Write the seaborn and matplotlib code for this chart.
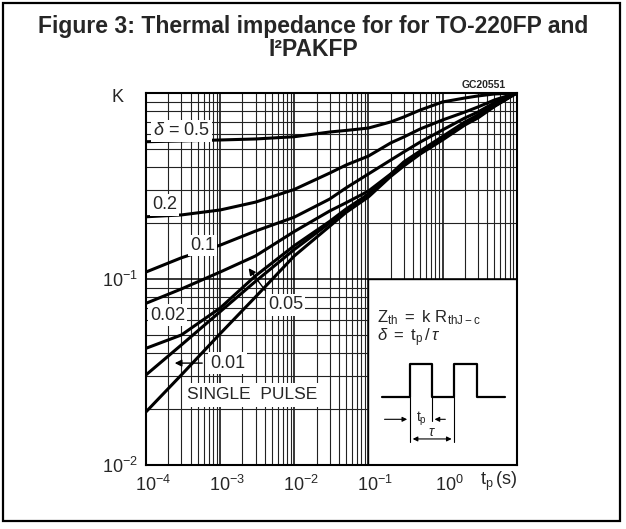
import numpy as np
import pandas as pd
import matplotlib
matplotlib.use('Agg')
import matplotlib.pyplot as plt
import matplotlib.transforms as mtransforms
import seaborn as sns
from matplotlib.patches import Rectangle
from matplotlib.ticker import LogLocator, NullFormatter

# pulse duration (s)
tp = [1e-4, 3e-4, 1e-3, 3e-3, 1e-2, 3e-2, 5e-2, 1e-1, 2e-1, 3e-1, 5e-1, 1, 2, 3, 5, 10]

# normalised thermal impedance K for each duty cycle
k_05 = [0.547, 0.552, 0.559, 0.566, 0.582, 0.617, 0.629, 0.648, 0.699, 0.743, 0.810, 0.895,
        0.940, 0.964, 0.988, 1.0]
k_02 = [0.216, 0.221, 0.235, 0.259, 0.303, 0.371, 0.410, 0.458, 0.539, 0.580, 0.641, 0.716,
        0.790, 0.841, 0.917, 1.0]
k_01 = [0.109, 0.130, 0.152, 0.181, 0.215, 0.269, 0.309, 0.367, 0.436, 0.482, 0.545, 0.633,
        0.734, 0.790, 0.887, 1.0]
k_005 = [0.0740, 0.0884, 0.109, 0.133, 0.180, 0.232, 0.257, 0.297, 0.367, 0.426, 0.488, 0.584,
         0.699, 0.762, 0.862, 1.0]
k_002 = [0.0424, 0.0500, 0.0698, 0.104, 0.151, 0.204, 0.238, 0.286, 0.365, 0.415, 0.482, 0.573,
         0.690, 0.752, 0.857, 1.0]
k_001 = [0.0305, 0.0442, 0.0667, 0.0971, 0.144, 0.200, 0.233, 0.281, 0.360, 0.410, 0.476, 0.566,
         0.681, 0.743, 0.851, 1.0]
k_single = [0.0193, 0.0305, 0.0508, 0.0801, 0.133, 0.192, 0.228, 0.276, 0.356, 0.405, 0.470,
            0.559, 0.673, 0.734, 0.846, 1.0]

curves = {'0.5': k_05, '0.2': k_02, '0.1': k_01, '0.05': k_005,
          '0.02': k_002, '0.01': k_001, 'single': k_single}

xtick_vals = [1e-4, 1e-3, 1e-2, 1e-1, 1e0]
xtick_labels = ['$10^{-4}$', '$10^{-3}$', '$10^{-2}$', '$10^{-1}$', '$10^{0}$']
ytick_vals = [1e-2, 1e-1]
ytick_labels = ['$10^{-2}$', '$10^{-1}$']

rows = []
for name, vals in curves.items():
    for t, k in zip(tp, vals):
        rows.append({'t': t, 'K': k, 'delta': name})
df = pd.DataFrame(rows)

sns.set_style('white')
plt.rcParams['font.family'] = ['Liberation Sans', 'DejaVu Sans']
plt.rcParams['mathtext.fontset'] = 'custom'
plt.rcParams['mathtext.rm'] = 'Liberation Sans'
plt.rcParams['mathtext.it'] = 'Liberation Sans:italic'
plt.rcParams['mathtext.bf'] = 'Liberation Sans:bold'

fig = plt.figure(figsize=(6.26, 5.29), dpi=100)
ax = fig.add_axes([0.2332, 0.1210, 0.5922, 0.7032])
ax.set_xscale('log')
ax.set_yscale('log')
ax.set_xlim(1e-4, 10)
ax.set_ylim(1e-2, 1)

# grid
ax.set_axisbelow(True)
ax.xaxis.set_minor_locator(LogLocator(base=10, subs=np.arange(2, 10), numticks=100))
ax.yaxis.set_minor_locator(LogLocator(base=10, subs=np.arange(2, 10), numticks=100))
ax.xaxis.set_minor_formatter(NullFormatter())
ax.yaxis.set_minor_formatter(NullFormatter())
ax.grid(which='major', color='black', lw=1.1)
ax.grid(which='minor', color='#222222', lw=0.8)

# blank panel for the definitions
ax.add_patch(Rectangle((0.1, 0.01), 9.9, 0.09, facecolor='white', edgecolor='black',
                       lw=1.0, zorder=1.5))

sns.lineplot(data=df, x='t', y='K', units='delta', estimator=None, sort=False,
             color='black', lw=2.2, ax=ax, zorder=3, legend=False)

ax.set_xticks(xtick_vals)
ax.set_xticklabels(xtick_labels)
ax.set_yticks(ytick_vals)
ax.set_yticklabels(ytick_labels)
ax.tick_params(which='both', length=0, labelsize=13)
ax.tick_params(axis='x', pad=7)
ax.tick_params(axis='y', pad=6)
offset = mtransforms.ScaledTranslation(0.07, 0, fig.dpi_scale_trans)
for lab in ax.get_xticklabels():
    lab.set_transform(lab.get_transform() + offset)
ax.set_xlabel('')
ax.set_ylabel('')
for sp in ax.spines.values():
    sp.set_color('black')
    sp.set_linewidth(1.5)

box = dict(facecolor='white', edgecolor='none', pad=1.5)
fs = 13
ax.text(1.24e-4, 0.625, r'$\delta$ = 0.5', fontsize=fs, va='center', bbox=box, zorder=4)
ax.text(1.2e-4, 0.25, '0.2', fontsize=fs, va='center', bbox=box, zorder=4)
ax.text(3.9e-4, 0.152, '0.1', fontsize=fs, va='center', bbox=box, zorder=4)
ax.text(1.13e-4, 0.064, '0.02', fontsize=fs, va='center', bbox=box, zorder=4)
ax.text(4.4e-3, 0.0725, '0.05', fontsize=fs, va='center', bbox=box, zorder=4)
ax.text(7.3e-4, 0.0353, '0.01', fontsize=fs, va='center', bbox=box, zorder=4)
ax.text(3.57e-4, 0.0238, 'SINGLE  PULSE', fontsize=12.5, va='center',
        bbox=dict(facecolor='white', edgecolor='none', pad=3), zorder=4)

ax.annotate('', xy=(2.3e-3, 0.1175), xytext=(4.3e-3, 0.0841),
            arrowprops=dict(arrowstyle='-|>', color='black', lw=1.0, mutation_scale=10), zorder=4)
ax.annotate('', xy=(2.24e-4, 0.0353), xytext=(6.25e-4, 0.0353),
            arrowprops=dict(arrowstyle='-|>', color='black', lw=1.0, mutation_scale=10), zorder=4)

# axis captions
ax.text(-0.0755, 0.987, 'K', transform=ax.transAxes, fontsize=13, ha='center', va='center')
ax.text(0.912, 1.022, 'GC20551', transform=ax.transAxes, fontsize=7.5, fontweight='bold',
        ha='center', va='center')
ax.text(0.950, -0.045, r'$\mathrm{t_p\,(s)}$', transform=ax.transAxes, fontsize=13,
        ha='center', va='center')

# definitions inside the panel
ax.text(0.623, 0.395, r'$\mathrm{Z_{th}}\ =\ \mathrm{k\ R_{thJ-c}}$', transform=ax.transAxes,
        fontsize=12, va='center', zorder=4)
ax.text(0.623, 0.341, r'$\delta\ =\ \mathrm{t_p}\,/\,\tau$', transform=ax.transAxes,
        fontsize=12, va='center', zorder=4)
px = [0.636, 0.712, 0.712, 0.771, 0.771, 0.832, 0.832, 0.892, 0.892, 0.968]
py = [0.1836, 0.1836, 0.2715, 0.2715, 0.1836, 0.1836, 0.2715, 0.2715, 0.1836, 0.1836]
ax.plot(px, py, transform=ax.transAxes, color='black', lw=1.6, zorder=4)
for xe, ye in [(0.712, 0.062), (0.832, 0.062), (0.771, 0.118)]:
    ax.plot([xe, xe], [0.1836, ye], transform=ax.transAxes, color='black', lw=0.8, zorder=4)
arr = dict(arrowstyle='-|>', color='black', lw=0.8, mutation_scale=7)
ax.annotate('', xy=(0.712, 0.1228), xytext=(0.636, 0.1228), xycoords='axes fraction',
            arrowprops=arr, zorder=4)
ax.annotate('', xy=(0.771, 0.1228), xytext=(0.815, 0.1228), xycoords='axes fraction',
            arrowprops=arr, zorder=4)
ax.annotate('', xy=(0.712, 0.070), xytext=(0.832, 0.070), xycoords='axes fraction',
            arrowprops=dict(arrowstyle='<|-|>', color='black', lw=0.8, mutation_scale=7), zorder=4)
ax.text(0.742, 0.125, r'$\mathrm{t_p}$', transform=ax.transAxes, fontsize=10,
        ha='center', va='center', zorder=4)
ax.text(0.771, 0.088, r'$\tau$', transform=ax.transAxes, fontsize=10,
        ha='center', va='center', zorder=4)

# title and frame
fig.text(0.5, 1 - 26 / 529, 'Figure 3: Thermal impedance for for TO-220FP and',
         ha='center', va='center', fontsize=16.5, fontweight='bold')
fig.text(0.5, 1 - 50 / 529, 'I\u00b2PAKFP', ha='center', va='center', fontsize=16.5,
         fontweight='bold')
fig.add_artist(Rectangle((3 / 626, 1 - 521 / 529), 617 / 626, 518 / 529,
                         transform=fig.transFigure, fill=False, lw=1.6, ec='black'))

fig.savefig('out.png', dpi=100)
plt.close(fig)
